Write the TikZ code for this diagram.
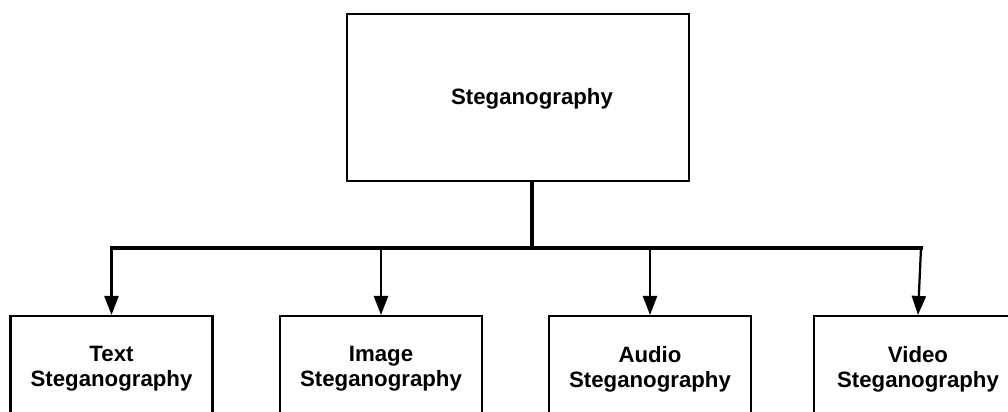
\documentclass[tikz,border=0pt]{standalone}
\usepackage{fontspec}
\setmainfont{Liberation Sans}
\usetikzlibrary{arrows.meta}
\begin{document}
\begin{tikzpicture}[x=0.025cm,y=-0.025cm,
		lbl/.style={font=\bfseries\fontsize{15.8}{17.7}\selectfont},
		box/.style={lbl,draw,line width=1.5pt,minimum width=5.05cm,minimum height=2.65cm,align=center},
		bar/.style={line width=2.8pt},
		arr/.style={line width=1.6pt,-{Triangle[length=13.5pt,width=10pt]}}]
	\clip (0,0) rectangle (1008,412);
	% root
	\node [box,minimum width=8.55cm,minimum height=4.175cm] (steg) at (518,97.5) {};
	\node [lbl] (stegtext) at (532,99) {Steganography};
	% kinds
	\node [box] (text) at (111.5,369) {Text\\Steganography};
	\node [box] (image) at (381,369) {Image\\Steganography};
	\node [box] (audio) at (650,369) {Audio\\Steganography};
	\node [box,minimum width=5.2cm] (video) at (918,369) {Video\\Steganography};
	% tree lines
	\coordinate (hub) at (532,248);
	\coordinate (barleft) at (110,248);
	\coordinate (barright) at (923,248);
	\coordinate (videotop) at (921,248);
	\draw [bar] (hub |- steg.south) -- (hub);
	\draw [bar] (barleft) -- (barright);
	\draw [arr] (text.north |- hub) -- (text.north);
	\draw [arr] (image.north |- hub) -- (image.north);
	\draw [arr] (audio.north |- hub) -- (audio.north);
	\draw [arr] (videotop) -- (video.north);
\end{tikzpicture}
\end{document}
